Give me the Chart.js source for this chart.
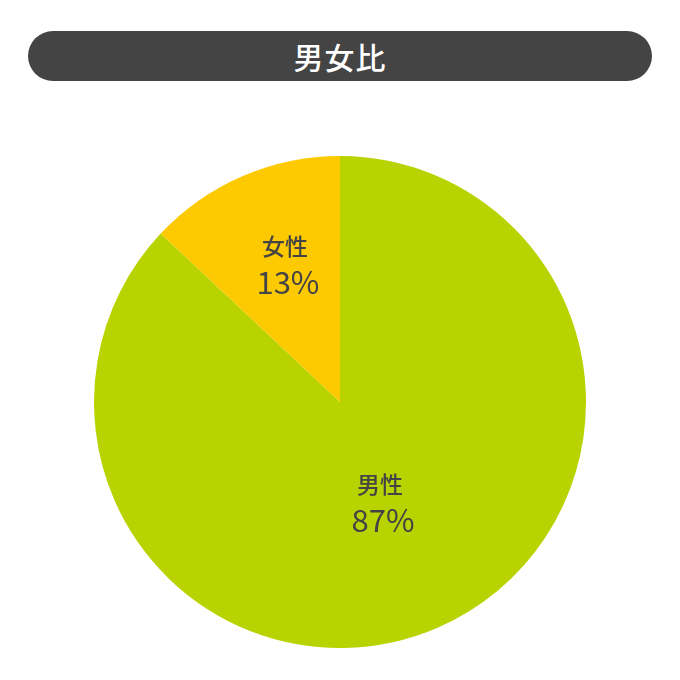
<!DOCTYPE html>
<html>
<head>
<meta charset="utf-8">
<script src="https://cdn.jsdelivr.net/npm/chart.js@4"></script>
<style>
  html, body { margin: 0; padding: 0; background: #fff; }
  .wrap { position: relative; width: 680px; height: 680px; }
  .title {
    position: absolute; left: 28px; top: 31px; width: 624px; height: 50px;
    background: #444; border-radius: 25px; color: #fff;
    font-family: "Noto Sans CJK JP", "Noto Sans", sans-serif; font-weight: 500;
    font-size: 30px; line-height: 50px; text-align: center; letter-spacing: 1px;
  }
  canvas { position: absolute; left: 0; top: 0; }
</style>
</head>
<body>
<div class="wrap">
  <div class="title">男女比</div>
  <canvas id="c" width="680" height="680"></canvas>
</div>
<script>
const labels = ["男性", "女性"];
const values = [87, 13];
const colors = ["#b9d300", "#fdc900"];

// ラベルをスライス内に描画
const sliceLabels = {
  id: "sliceLabels",
  afterDatasetsDraw(chart, args, opts) {
    const { ctx } = chart;
    const meta = chart.getDatasetMeta(0);
    meta.data.forEach((arc, i) => {
      const p = arc.getProps(["x", "y", "startAngle", "endAngle", "outerRadius"], true);
      const mid = (p.startAngle + p.endAngle) / 2;
      const r = p.outerRadius * opts.radius[i];
      const x = p.x + Math.cos(mid) * r + opts.dx[i];
      const y = p.y + Math.sin(mid) * r;
      ctx.save();
      ctx.fillStyle = "#444";
      ctx.textAlign = "center";
      ctx.textBaseline = "middle";
      ctx.font = '500 23px "Noto Sans CJK JP", sans-serif';
      ctx.fillText(labels[i], x - 3, y - 17);
      ctx.font = '400 31px "Noto Sans CJK JP", "Noto Sans", sans-serif';
      ctx.fillText(values[i] + "%", x, y + 19);
      ctx.restore();
    });
  }
};

new Chart(document.getElementById("c"), {
  type: "pie",
  data: {
    labels,
    datasets: [{ data: values, backgroundColor: colors, borderWidth: 0 }]
  },
  options: {
    responsive: false,
    animation: false,
    layout: { padding: { top: 156, bottom: 32, left: 94, right: 94 } },
    plugins: {
      legend: { display: false },
      tooltip: { enabled: false },
      sliceLabels: { radius: [0.44, 0.615], dx: [0, 8] }
    }
  },
  plugins: [sliceLabels]
});
</script>
</body>
</html>
